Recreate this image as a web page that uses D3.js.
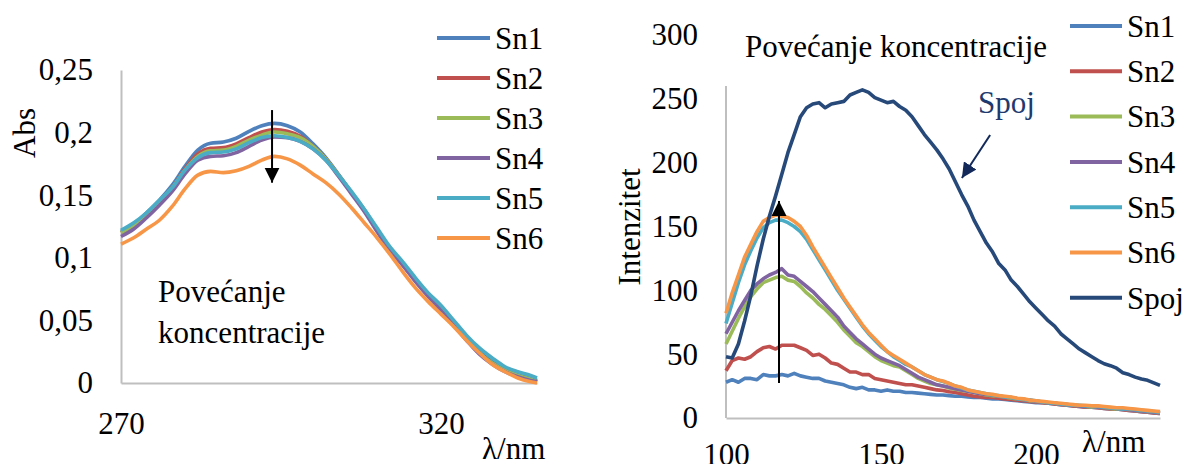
<!DOCTYPE html>
<html><head><meta charset="utf-8">
<script src="https://cdn.jsdelivr.net/npm/d3@7/dist/d3.min.js"></script>
<style>
body{margin:0;background:#fff}
svg{display:block}
</style>
</head><body>
<svg id="c" width="1187" height="464"></svg>
<script>
// ---------- DATA ----------
const seriesNames = ["Sn1","Sn2","Sn3","Sn4","Sn5","Sn6"];
const seriesNamesRight = ["Sn1","Sn2","Sn3","Sn4","Sn5","Sn6","Spoj"];

// Left chart: absorbance
const absWavelength = [270,272,274,276,278,280,282,284,286,288,290,292,294,296,298,300,302,304,306,308,310,312,314,316,318,320,322,324,326,328,330,332,334,335];
const absSn1 = [0.121,0.127,0.136,0.146,0.158,0.173,0.186,0.1915,0.1925,0.1955,0.201,0.2055,0.2074,0.2055,0.2005,0.191,0.180,0.1665,0.152,0.1385,0.122,0.107,0.095,0.082,0.070,0.060,0.048,0.036,0.025,0.017,0.011,0.007,0.004,0.002];
const absSn2 = [0.120,0.126,0.135,0.145,0.156,0.171,0.183,0.1875,0.188,0.191,0.196,0.2005,0.2025,0.201,0.197,0.189,0.179,0.166,0.152,0.138,0.122,0.107,0.095,0.082,0.070,0.059,0.047,0.035,0.024,0.016,0.010,0.006,0.003,0.001];
const absSn3 = [0.120,0.126,0.135,0.145,0.156,0.170,0.181,0.1855,0.186,0.189,0.194,0.198,0.2005,0.199,0.196,0.189,0.179,0.166,0.152,0.138,0.122,0.107,0.095,0.082,0.070,0.059,0.047,0.035,0.024,0.016,0.010,0.006,0.003,0.001];
const absSn4 = [0.117,0.123,0.132,0.142,0.153,0.167,0.178,0.181,0.1815,0.184,0.189,0.194,0.1965,0.196,0.193,0.187,0.178,0.165,0.151,0.137,0.121,0.106,0.094,0.081,0.069,0.058,0.046,0.034,0.023,0.015,0.009,0.005,0.002,0.001];
const absSn5 = [0.122,0.128,0.136,0.146,0.156,0.170,0.180,0.184,0.1845,0.187,0.192,0.196,0.1975,0.196,0.193,0.187,0.178,0.166,0.153,0.139,0.124,0.109,0.097,0.084,0.072,0.062,0.050,0.038,0.028,0.020,0.013,0.009,0.006,0.004];
const absSn6 = [0.111,0.116,0.123,0.130,0.141,0.155,0.166,0.169,0.168,0.1695,0.173,0.178,0.181,0.179,0.174,0.167,0.160,0.151,0.140,0.128,0.116,0.103,0.089,0.076,0.065,0.055,0.045,0.034,0.024,0.015,0.009,0.004,0.001,0.0];
const absYTicks = [0,0.05,0.1,0.15,0.2,0.25];
const absYLabels = ["0","0,05","0,1","0,15","0,2","0,25"];
const absXTicks = [270,320];

// Right chart: fluorescence intensity
const flWavelength = [100,102,104,106,108,110,112,114,116,118,120,122,124,126,128,130,132,134,136,138,140,142,144,146,148,150,152,154,156,158,160,162,164,166,168,170,172,174,176,178,180,182,184,186,188,190,192,194,196,198,200,202,204,206,208,210,212,214,216,218,220,222,224,226,228,230,232,234,236,238,240];
const flSn1 = [28,30,28,31,31,30,34,33,33,34, 33,35,33,32,31,31,29,28,27,26, 24,23,24,22,22,21,22,21,21,20, 20,19.5,19,18.5,18,18,17.5,17,17,16.5, 16,16,15.5,15,15,14.5,14,13.5,13,12.5, 12,12,11.5,11,10.5,10,9.5,9,8.5,8.5, 8,7.5,7,7,6.5,6,5.5,5,4.5,4, 3.5];
const flSn2 = [37,45,47,46,48,52,55,56,54,57, 57,57,55,53,49,50,47,43,42,39, 36,36,34,34,31,30,29,28,27,26, 26,25,24,23,22,21.5,20.5,20,19,18, 17,16.5,16,16,15.5,15,14.5,14,13.5,13, 12.5,12,11.5,11,10.5,10,9.5,9,8.5,8.5, 8,7.5,7,7,6.5,6,5.5,5,4.5,4, 3.5];
const flSn3 = [58,68,78,87,95,101,106,108,110,111, 108,107,103,98,94,89,85,80,75,69, 64,59,56,52,48,45,43,41,40,37, 34,31,29,27,26,25,23.5,22.5,21.5,21, 20,19,18,17.5,17,16.5,15.5,15,14.5,13.5, 13,12.5,12,11.5,11,10.5,10,9.5,9,8.5, 8.5,8,7.5,7,7,6.5,6,5.5,5,4.5, 4];
const flSn4 = [66,75,84,92,100,105,109,112,114,117, 112,111,107,103,99,94,89,84,79,72, 67,62,58,54,50,47,45,43,41,38, 35,32,30,28,26,25,24,23,22,21, 20,19,18.5,18,17,16.5,16,15,14.5,14, 13,12.5,12,11.5,11,10.5,10,9.5,9,9, 8.5,8,8,7.5,7,6.5,6,5.5,5,4.5, 4];
const flSn5 = [74,90,106,120,131,141,149,153,155,155, 153,150,146,140,132,124,116,108,100,93, 86,79,72,66,61,56,52,48,45,42, 40,37,34,32,30,28.5,27,25,23.5,22, 21,20,19,18,17.5,16.5,16,15,14.5,14, 13.5,12.5,12,11.5,11,10.5,10,10,9.5,9, 9,8.5,8,7.5,7,7,6.5,6,5.5,5, 4.5];
const flSn6 = [82,98,112,126,136,146,154,157,159,158, 157,154,150,143,134,126,118,110,102,94, 87,80,73,67,62,57,52,49,46,43, 40,37,34,32,30,29,27,25,24,22, 21,20,19,18.5,17.5,17,16.5,15.5,15,14, 13.5,13,12.5,12,11.5,11,10.5,10,10,9.5, 9.5,9,8.5,8,8,7.5,7,6.5,6,5.5, 5];
const flSpoj = [48,47,58,76,96,119,140,158,174,191, 208,222,236,243,246,247,243,246,247,248, 253,255,257,255,251,249,247,248,244,241, 236,229,222,216,210,203,195,185,175,166, 155,146,137,130,121,116,108,103,97,91, 86,81,76,72,66,62,58,54,51,48, 45,42.5,41,39,35.5,34,32,30.5,29.5,27.5, 25.5];
const flYTicks = [0,50,100,150,200,250,300];
const flXTicks = [100,150,200];

// ---------- STYLE ----------
const colors = {Sn1:"#4F81BD",Sn2:"#C0504D",Sn3:"#9BBB59",Sn4:"#8064A2",Sn5:"#4BACC6",Sn6:"#F79646",Spoj:"#26497A"};
const FS = 31;
const FONT = "'Liberation Serif'";
const axisColor = "#BFBFBF";
const LW = 3.6;

const svg = d3.select("#c");
const defs = svg.append("defs");
function marker(id, color, len, wid){
  defs.append("marker").attr("id",id).attr("viewBox","0 0 10 10").attr("refX",10).attr("refY",5)
    .attr("markerWidth",len).attr("markerHeight",wid).attr("markerUnits","userSpaceOnUse").attr("orient","auto")
    .append("path").attr("d","M0,0 L10,5 L0,10 Z").attr("fill",color);
}
marker("ahBlack","#000",15,16);
marker("ahNavy","#12295A",15,15);

function txt(sel){ return sel.attr("font-family",null).style("font-family",FONT).style("font-size",FS+"px").style("fill","#000"); }
function styleAxis(g){
  g.attr("font-family",null).attr("font-size",null);
  txt(g.selectAll("text"));
  g.selectAll(".tick line").remove();
}

// ---------- LEFT CHART ----------
const xA = d3.scaleLinear().domain([270,335]).range([121,537]);
const yA = d3.scaleLinear().domain([0,0.25]).range([383,70]);

const gA = svg.append("g");
const yAxA = gA.append("g").attr("transform",`translate(${xA(270)},0)`)
  .call(d3.axisLeft(yA).tickValues(absYTicks).tickFormat((d,i)=>absYLabels[i]).tickSize(0).tickPadding(28));
yAxA.select(".domain").attr("stroke",axisColor).attr("stroke-width",2);
styleAxis(yAxA);
const xAxA = gA.append("g").attr("transform",`translate(0,${yA(0)})`)
  .call(d3.axisBottom(xA).tickValues(absXTicks).tickFormat(d3.format("d")).tickSize(0).tickPadding(29));
xAxA.select(".domain").attr("stroke",axisColor).attr("stroke-width",2);
styleAxis(xAxA);

const absSeries = [absSn1,absSn2,absSn3,absSn4,absSn5,absSn6];
const lineA = d3.line().x((d,i)=>xA(absWavelength[i])).y(d=>yA(d)).curve(d3.curveMonotoneX);
absSeries.forEach((s,k)=>{
  gA.append("path").attr("d",lineA(s)).attr("fill","none").attr("stroke",colors[seriesNames[k]])
    .attr("stroke-width",LW).attr("stroke-linejoin","round");
});

// axis titles
txt(gA.append("text").attr("transform",`translate(35,133) rotate(-90)`).attr("text-anchor","middle")).text("Abs");
txt(gA.append("text").attr("x",482).attr("y",459)).text("λ/nm");

// annotation
txt(gA.append("text").attr("x",xA(275.8)).attr("y",yA(0.0647))).text("Povećanje");
txt(gA.append("text").attr("x",xA(275.8)).attr("y",yA(0.032))).text("koncentracije");
gA.append("line").attr("x1",xA(293.6)).attr("x2",xA(293.6)).attr("y1",yA(0.218)).attr("y2",yA(0.16))
  .attr("stroke","#000").attr("stroke-width",2).attr("marker-end","url(#ahBlack)");

// legend
seriesNames.forEach((n,i)=>{
  const y = 38 + i*40;
  gA.append("line").attr("x1",437).attr("x2",490).attr("y1",y).attr("y2",y).attr("stroke",colors[n]).attr("stroke-width",4);
  txt(gA.append("text").attr("x",495).attr("y",y).attr("dy","0.35em")).text(n);
});

// ---------- RIGHT CHART ----------
const xF = d3.scaleLinear().domain([100,240]).range([726,1160]);
const yF = d3.scaleLinear().domain([0,300]).range([418,35]);
const gF = svg.append("g");
const yAxF = gF.append("g").attr("transform",`translate(${xF(100)},0)`)
  .call(d3.axisLeft(yF).tickValues(flYTicks).tickFormat(d3.format("d")).tickSize(0).tickPadding(28));
yAxF.select(".domain").remove();
styleAxis(yAxF);
gF.append("line").attr("x1",xF(100)).attr("x2",xF(100)).attr("y1",yF(0)).attr("y2",yF(260))
  .attr("stroke",axisColor).attr("stroke-width",2);
const xAxF = gF.append("g").attr("transform",`translate(0,${yF(0)})`)
  .call(d3.axisBottom(xF).tickValues(flXTicks).tickFormat(d3.format("d")).tickSize(0).tickPadding(25));
xAxF.select(".domain").attr("stroke",axisColor).attr("stroke-width",2);
styleAxis(xAxF);

const flSeries = [flSn1,flSn2,flSn3,flSn4,flSn5,flSn6,flSpoj];
const lineF = d3.line().x((d,i)=>xF(flWavelength[i])).y(d=>yF(d)).curve(d3.curveLinear);
flSeries.forEach((s,k)=>{
  gF.append("path").attr("d",lineF(s)).attr("fill","none").attr("stroke",colors[seriesNamesRight[k]])
    .attr("stroke-width",LW).attr("stroke-linejoin","round");
});

txt(gF.append("text").attr("transform",`translate(640,227) rotate(-90)`).attr("text-anchor","middle")).text("Intenzitet");
txt(gF.append("text").attr("x",1082).attr("y",452)).text("λ/nm");
txt(gF.append("text").attr("x",xF(106.1)).attr("y",yF(282.8))).text("Povećanje koncentracije");
txt(gF.append("text").attr("x",xF(181.3)).attr("y",yF(238.9))).style("fill","#1F3A6E").text("Spoj");
gF.append("line").attr("x1",xF(185.2)).attr("y1",yF(221.7)).attr("x2",xF(176.1)).attr("y2",yF(188))
  .attr("stroke","#12295A").attr("stroke-width",2).attr("marker-end","url(#ahNavy)");
gF.append("line").attr("x1",xF(117.1)).attr("x2",xF(117.1)).attr("y1",yF(27.4)).attr("y2",yF(170))
  .attr("stroke","#000").attr("stroke-width",2).attr("marker-end","url(#ahBlack)");

seriesNamesRight.forEach((n,i)=>{
  const y = 26 + i*45.3;
  gF.append("line").attr("x1",1070).attr("x2",1122).attr("y1",y).attr("y2",y).attr("stroke",colors[n]).attr("stroke-width",4);
  txt(gF.append("text").attr("x",1127).attr("y",y).attr("dy","0.35em")).text(n);
});
</script>
</body></html>
